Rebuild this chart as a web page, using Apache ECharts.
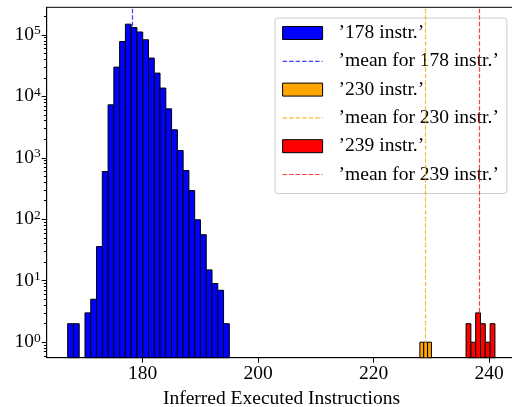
<!DOCTYPE html>
<html><head><meta charset="utf-8">
<script src="https://cdn.jsdelivr.net/npm/echarts@6/dist/echarts.min.js"></script>
<style>html,body{margin:0;padding:0;background:#fff}#c{width:512px;height:407px}</style>
</head><body><div id="c"></div>
<script>
// ---- data ----
const blueName = "\u2019178 instr.\u2019";
const orangeName = "\u2019230 instr.\u2019";
const redName = "\u2019239 instr.\u2019";
const blueMeanName = "\u2019mean for 178 instr.\u2019";
const orangeMeanName = "\u2019mean for 230 instr.\u2019";
const redMeanName = "\u2019mean for 239 instr.\u2019";

const blueEdges = [167,168,169,170,171,172,173,174,175,176,177,178,179,180,181,182,183,184,185,186,187,188,189,190,191,192,193,194,195];
const blueCounts = [2,2,0,3,5,36,597,7260,29800,77800,149000,131000,111000,83000,41800,23800,13600,6250,2850,1310,620,293,98,56,15,9,7,2];
const orangeEdges = [228, 228.667, 229.333, 230];
const orangeCounts = [1,1,1];
const redEdges = [236, 236.833, 237.667, 238.5, 239.333, 240.167, 241];
const redCounts = [2,1,3,2,1,2];

const blueMean = 178.27;
const orangeMean = 228.85;
const redMean = 238.32;

const xTicks = [180,200,220,240];
const yTicks = [1,10,100,1000,10000,100000];
const yMinorTicks = [0.6,0.7,0.8,0.9,2,3,4,5,6,7,8,9,20,30,40,50,60,70,80,90,200,300,400,500,600,700,800,900,2000,3000,4000,5000,6000,7000,8000,9000,20000,30000,40000,50000,60000,70000,80000,90000,200000];

// ---- build ----
function bins(edges, counts){
  return counts.map((c,i)=>[edges[i], edges[i+1], c]);
}
function renderBin(params, api){
  const c = api.value(2);
  if (!(c > 0)) return null;
  const p0 = api.coord([api.value(0), c]);
  const p1 = api.coord([api.value(1), c]);
  const cs = params.coordSys;
  const base = cs.y + cs.height;
  return {type:'rect', shape:{x:p0[0], y:p0[1], width:p1[0]-p0[0], height:base-p0[1]},
          style:{fill:api.visual('color'), stroke:'#000', lineWidth:1}};
}
const FONT = '"Liberation Serif","DejaVu Serif",serif';
const DASH = [4.5, 2];
const BLUE_L = 'rgba(0,0,255,0.75)', ORANGE_L = 'rgba(255,165,0,0.8)', RED_L = 'rgba(255,0,0,0.75)';
function histSeries(name, color, edges, counts){
  return {type:'custom', name:name, renderItem:renderBin, data:bins(edges, counts),
          encode:{x:[0,1], y:2}, itemStyle:{color:color, borderColor:'#000', borderWidth:1}, z:2};
}
function meanSeries(name, color, val){
  return {type:'line', name:name, data:[], symbol:'none', z:3,
          lineStyle:{color:color, type:DASH, width:1.2}, itemStyle:{color:color},
          markLine:{symbol:'none', silent:true, animation:false, label:{show:false},
                    lineStyle:{color:color, type:DASH, width:1.2}, data:[{xAxis:val}]}};
}
function meanLegend(name, color){
  return {name:name, itemStyle:{opacity:0}, lineStyle:{color:color, type:DASH, width:1.2}};
}

const chart = echarts.init(document.getElementById('c'), null, {renderer:'canvas'});
const option = {
  animation:false,
  backgroundColor:'#fff',
  textStyle:{fontFamily:FONT},
  grid:{left:46.7, top:7.3, right:-4.3, bottom:49.3, show:true, borderColor:'#000', borderWidth:1, outerBoundsMode:'none', containLabel:false},
  xAxis:{type:'value', min:163.37, max:244.7,
    name:'Inferred Executed Instructions', nameLocation:'middle', nameGap:31,
    nameTextStyle:{fontFamily:FONT, fontSize:19.5, color:'#000'},
    axisLine:{show:true, lineStyle:{color:'#000', width:1}},
    axisTick:{show:true, length:5, lineStyle:{color:'#000'}, customValues:xTicks},
    axisLabel:{customValues:xTicks, fontFamily:FONT, fontSize:19.5, color:'#000', margin:6.5},
    splitLine:{show:false}},
  yAxis:[{type:'log', logBase:10, min:0.56, max:280000,
    axisLine:{show:true, lineStyle:{color:'#000', width:1}},
    axisTick:{show:true, length:5, lineStyle:{color:'#000'}, customValues:yTicks},
    axisLabel:{customValues:yTicks, margin:6, color:'#000',
      formatter:function(v){ const e = Math.round(Math.log10(v)); return '{b|10}{s|' + e + '}'; },
      rich:{b:{fontFamily:FONT, fontSize:19.5, lineHeight:22, color:'#000'},
            s:{fontFamily:FONT, fontSize:13.5, lineHeight:13, verticalAlign:'top', color:'#000'}}},
    splitLine:{show:false}},
   {type:'log', logBase:10, min:0.56, max:280000, position:'left',
    axisLine:{show:false},
    axisTick:{show:true, length:2.8, lineStyle:{color:'#000'}, customValues:yMinorTicks},
    axisLabel:{show:false}, splitLine:{show:false}}],
  legend:{orient:'vertical', left:275, top:18, padding:[5,8,9,7],
    itemWidth:40, itemHeight:13, itemGap:8.3,
    backgroundColor:'rgba(255,255,255,0.8)', borderColor:'#cccccc', borderWidth:1, borderRadius:3,
    textStyle:{fontFamily:FONT, fontSize:19.5, color:'#000', lineHeight:20, padding:[0,0,0,11]},
    data:[
      {name:blueName, icon:'rect', itemStyle:{borderColor:'#000', borderWidth:1}},
      meanLegend(blueMeanName, BLUE_L),
      {name:orangeName, icon:'rect', itemStyle:{borderColor:'#000', borderWidth:1}},
      meanLegend(orangeMeanName, ORANGE_L),
      {name:redName, icon:'rect', itemStyle:{borderColor:'#000', borderWidth:1}},
      meanLegend(redMeanName, RED_L)
    ]},
  series:[
    histSeries(blueName, '#0000ff', blueEdges, blueCounts),
    meanSeries(blueMeanName, BLUE_L, blueMean),
    histSeries(orangeName, '#ffa500', orangeEdges, orangeCounts),
    meanSeries(orangeMeanName, ORANGE_L, orangeMean),
    histSeries(redName, '#ff0000', redEdges, redCounts),
    meanSeries(redMeanName, RED_L, redMean)
  ]
};
chart.setOption(option);
</script></body></html>
